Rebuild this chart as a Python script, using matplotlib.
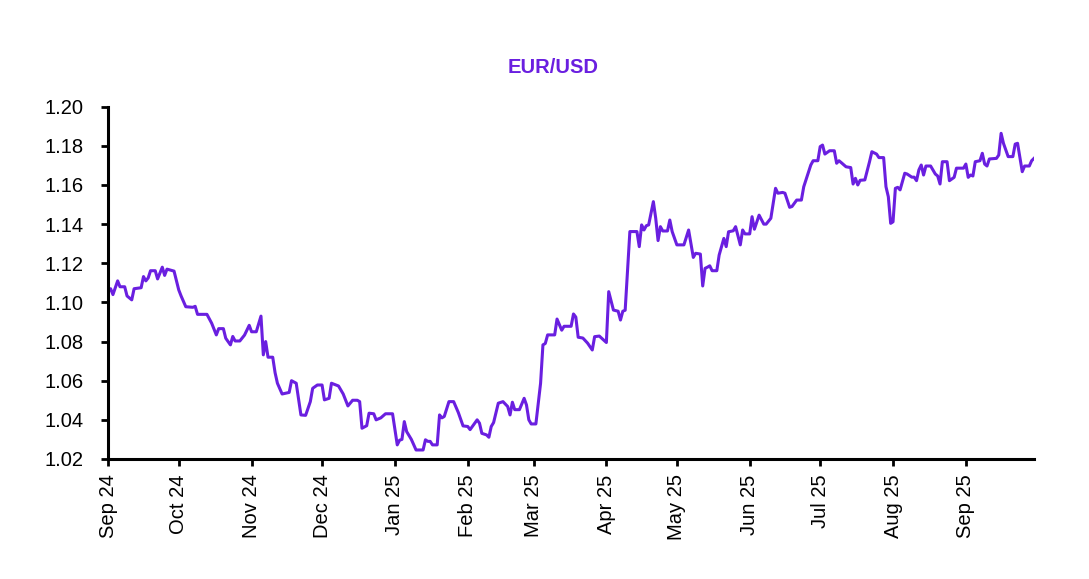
import numpy as np
import matplotlib
matplotlib.use("Agg")
import matplotlib.pyplot as plt
import matplotlib.dates as mdates

plt.rcParams['font.family'] = ['Liberation Sans', 'DejaVu Sans']

# EUR/USD: days after 1 Sep 2024 and the rate
start = np.datetime64('2024-09-01')
days = [0, 1, 2, 4, 5, 7, 8, 10, 11, 14, 15, 16, 17, 18, 20, 21, 23, 24, 25, 28,
        30, 31, 33, 36, 37, 38, 42, 44, 46, 47, 49, 50, 52, 53, 54, 56, 58, 60, 61, 63,
        65, 66, 67, 68, 70, 71, 72, 74, 77, 78, 80, 82, 84, 86, 87, 89, 91, 92, 94, 95,
        98, 100, 102, 104, 106, 107, 108, 110, 111, 113, 114, 116, 118, 121, 123, 124, 125, 126, 127, 129,
        131, 134, 135, 136, 137, 138, 140, 141, 142, 143, 145, 147, 149, 151, 153, 154, 157, 158, 159, 161,
        162, 163, 164, 166, 168, 170, 171, 172, 173, 175, 177, 178, 179, 180, 182, 184, 185, 186, 187, 190,
        191, 193, 194, 197, 198, 199, 200, 202, 204, 206, 207, 209, 212, 213, 215, 217, 218, 219, 220, 222,
        225, 226, 227, 228, 229, 230, 232, 233, 234, 235, 236, 238, 239, 240, 242, 245, 247, 249, 250, 252,
        253, 254, 255, 256, 257, 259, 260, 262, 263, 264, 266, 267, 269, 270, 271, 273, 274, 275, 277, 279,
        280, 282, 284, 285, 287, 288, 290, 291, 293, 295, 296, 299, 300, 302, 303, 304, 305, 307, 309, 310,
        311, 312, 314, 316, 317, 318, 319, 320, 322, 324, 325, 327, 328, 330, 331, 332, 333, 334, 335, 336,
        337, 339, 340, 342, 343, 344, 345, 346, 347, 348, 350, 352, 353, 354, 355, 357, 358, 360, 361, 364,
        365, 366, 367, 368, 369, 371, 372, 373, 374, 375, 378, 379, 380, 381, 383, 385, 386, 387, 389, 390,
        392, 393, 394]
rate = [1.1055, 1.107, 1.104, 1.111, 1.108, 1.108, 1.1033, 1.1013, 1.107, 1.1075,
        1.1132, 1.111, 1.1125, 1.1162, 1.1162, 1.112, 1.118, 1.1138, 1.117, 1.116,
        1.1064, 1.1033, 1.0978, 1.0975, 1.098, 1.0939, 1.0939, 1.0894, 1.0834, 1.0866,
        1.0866, 1.0817, 1.0783, 1.0826, 1.0803, 1.0803, 1.0833, 1.0883, 1.085, 1.085,
        1.093, 1.0732, 1.080, 1.072, 1.072, 1.0641, 1.0587, 1.0532, 1.054, 1.060,
        1.0587, 1.0425, 1.0423, 1.0493, 1.0561, 1.0578, 1.0578, 1.0502, 1.051, 1.0587,
        1.0573, 1.0532, 1.0471, 1.050, 1.050, 1.0493, 1.0357, 1.037, 1.0434, 1.0431,
        1.040, 1.041, 1.0431, 1.0431, 1.0272, 1.0296, 1.030, 1.0391, 1.034, 1.030,
        1.0246, 1.0246, 1.0298, 1.029, 1.029, 1.0272, 1.0272, 1.0425, 1.041, 1.0417,
        1.0493, 1.0493, 1.0437, 1.0369, 1.0366, 1.035, 1.040, 1.0383, 1.0331, 1.0323,
        1.0311, 1.0366, 1.0386, 1.0485, 1.0493, 1.0468, 1.0425, 1.049, 1.0452, 1.0452,
        1.051, 1.0476, 1.040, 1.0379, 1.0379, 1.0587, 1.0783, 1.079, 1.0834, 1.0834,
        1.0915, 1.0858, 1.0878, 1.0878, 1.0941, 1.0925, 1.0822, 1.0818, 1.0792, 1.0757,
        1.0825, 1.0828, 1.0795, 1.1055, 1.0961, 1.0955, 1.091, 1.0955, 1.096, 1.1362,
        1.1362, 1.1285, 1.1396, 1.137, 1.1392, 1.1396, 1.1515, 1.1430, 1.1316, 1.1387,
        1.1365, 1.1365, 1.1421, 1.1362, 1.1294, 1.1294, 1.137, 1.123, 1.1251, 1.1247,
        1.1084, 1.1174, 1.118, 1.1187, 1.1162, 1.1162, 1.1242, 1.1327, 1.1285, 1.1361,
        1.1366, 1.1387, 1.1294, 1.137, 1.135, 1.135, 1.1438, 1.1374, 1.1446, 1.1400,
        1.1400, 1.143, 1.1583, 1.1558, 1.1562, 1.1558, 1.1486, 1.149, 1.1523, 1.1523,
        1.1591, 1.1702, 1.1724, 1.1724, 1.1796, 1.1804, 1.1758, 1.1775, 1.1775, 1.1711,
        1.1724, 1.1714, 1.1693, 1.1689, 1.1605, 1.1634, 1.1600, 1.1624, 1.1626, 1.1719,
        1.177, 1.1758, 1.174, 1.174, 1.1591, 1.1540, 1.1404, 1.1412, 1.1583, 1.1588,
        1.1575, 1.166, 1.1656, 1.164, 1.164, 1.1622, 1.1677, 1.1702, 1.1651, 1.1697,
        1.1697, 1.1656, 1.1646, 1.1605, 1.1719, 1.1719, 1.1622, 1.1639, 1.1686, 1.1686,
        1.1707, 1.1639, 1.1651, 1.1646, 1.1719, 1.1724, 1.1762, 1.1707, 1.1697, 1.1733,
        1.1736, 1.1753, 1.1864, 1.1813, 1.1745, 1.1745, 1.1809, 1.1813, 1.1668, 1.1697,
        1.1697, 1.1724, 1.1736]

yticks = [1.02, 1.04, 1.06, 1.08, 1.10, 1.12, 1.14, 1.16, 1.18, 1.20]

dates = start + np.array(days).astype('timedelta64[D]')
purple = '#6A1FE0'

fig = plt.figure(figsize=(10.89, 5.79), dpi=100)
ax = fig.add_axes([0.0994, 0.2073, 0.8501, 0.6084])
ax.plot(dates, rate, color=purple, linewidth=2.2)

ax.set_xlim(start, dates[-1])
ax.set_ylim(1.02, 1.20)
ax.set_yticks(yticks)
ax.yaxis.set_major_formatter(plt.FormatStrFormatter('%.2f'))
ax.xaxis.set_major_locator(mdates.MonthLocator())
ax.xaxis.set_major_formatter(mdates.DateFormatter('%b %y'))

for s in ['top', 'right']:
    ax.spines[s].set_visible(False)
for s in ['left', 'bottom']:
    ax.spines[s].set_linewidth(2.2)
ax.tick_params(axis='both', direction='out', length=5, width=2, labelsize=14.5)
ax.tick_params(axis='y', pad=13)
ax.tick_params(axis='x', pad=6, labelrotation=90)

fig.text(0.508, 0.884, 'EUR/USD', color=purple, fontsize=14.5, fontweight='bold',
         ha='center', va='center')

fig.savefig('out.png', dpi=100)
